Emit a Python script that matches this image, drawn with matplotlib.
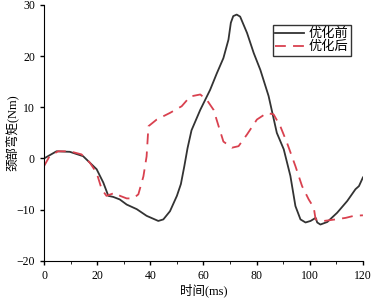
import matplotlib
matplotlib.use("Agg")
import matplotlib.pyplot as plt
from matplotlib.ticker import MultipleLocator

plt.rcParams['font.family'] = ['Liberation Serif', 'Noto Sans CJK SC']

# 优化前 (before optimisation)
t_before = [0, 4.7, 9.7, 14.7, 19.8, 22.3, 24.2, 26, 28.5, 31.1, 34.9, 38.6, 43,
            44.9, 47.4, 50, 51.5, 52.8, 54, 55.5, 58.8, 62.5, 65, 67.5, 69.4, 70.3,
            71.2, 72.5, 73.8, 76.4, 78.9, 81.4, 84.5, 87.6, 90.2, 92.7, 94.6, 96.5,
            98.4, 100.3, 102.2, 102.8, 104, 106.6, 110.3, 114.1, 117.2, 118.5, 120]
m_before = [0, 1.4, 1.3, 0.45, -2.1, -4.7, -7.3, -7.5, -8, -9, -9.9, -11.2, -12.2,
            -11.9, -10.3, -7.3, -5, -1.5, 2, 5.5, 9.5, 13.4, 16.6, 19.6, 23.2, 26.5,
            27.8, 28.1, 27.7, 24.5, 20.6, 17.3, 12.2, 5, 1.8, -3.4, -9.3, -11.9,
            -12.5, -12.2, -11.6, -12.5, -12.9, -12.4, -10.6, -8.3, -6, -5.4, -3.7]

# 优化后 (after optimisation)
t_after = [0, 2.1, 5.3, 9.7, 14.1, 17.2, 19.8, 21.7, 23.5, 26.7, 28.6, 31.1, 33.6,
           35.5, 37.4, 38.6, 39.3, 42.4, 47.4, 51.8, 55, 58.8, 61.3, 63.8, 65.7,
           67.5, 70.7, 73.2, 76.4, 80.1, 83.9, 86.4, 88.9, 91.4, 94.6, 97.1, 99.6,
           101.5, 102.2, 105.3, 109.7, 113.5, 116.6, 120]
m_after = [-1.5, 0.45, 1.4, 1.4, 0.8, -0.8, -2.8, -6, -7.3, -6.7, -7.3, -7.8, -7.8,
           -7, -3.5, 0.4, 6.3, 7.6, 8.9, 10.2, 12.1, 12.5, 11.4, 9.5, 6.3,
           3.3, 2.1, 2.4, 4.7, 7.6, 8.9, 8.6, 6.3, 3.1, -1.5, -5.4, -8,
           -9.6, -11.9, -12.2, -11.9, -11.6, -11.2, -11.1]

fig = plt.figure(figsize=(3.73, 3.03), dpi=100)
ax = fig.add_axes([0.118, 0.139, 0.855, 0.845])

ax.plot(t_before, m_before, color='#333333', lw=1.3, label='优化前')
ax.plot(t_after, m_after, color='#d9414f', lw=1.3, ls=(0, (6, 4)), label='优化后')

ax.set_xlim(0, 120)
ax.set_ylim(-20, 30)
ax.xaxis.set_major_locator(MultipleLocator(20))
ax.xaxis.set_minor_locator(MultipleLocator(10))
ax.yaxis.set_major_locator(MultipleLocator(10))
ax.spines['top'].set_visible(False)
ax.spines['right'].set_visible(False)
ax.tick_params(labelsize=8.5, length=3, width=1)
ax.tick_params(which='minor', length=2)
ax.set_xlabel('时间(ms)', fontsize=9, labelpad=1)
ax.set_ylabel('颈部弯矩(Nm)', fontsize=9, labelpad=-2)

leg = ax.legend(loc='upper right', bbox_to_anchor=(0.97, 0.93), fontsize=9.5,
                frameon=True, fancybox=False, edgecolor='black', handlelength=2.2,
                borderpad=0.2, labelspacing=0.05, handletextpad=0.3,
                borderaxespad=0.2)
leg.get_frame().set_linewidth(1)

fig.savefig('out.png', dpi=100)
